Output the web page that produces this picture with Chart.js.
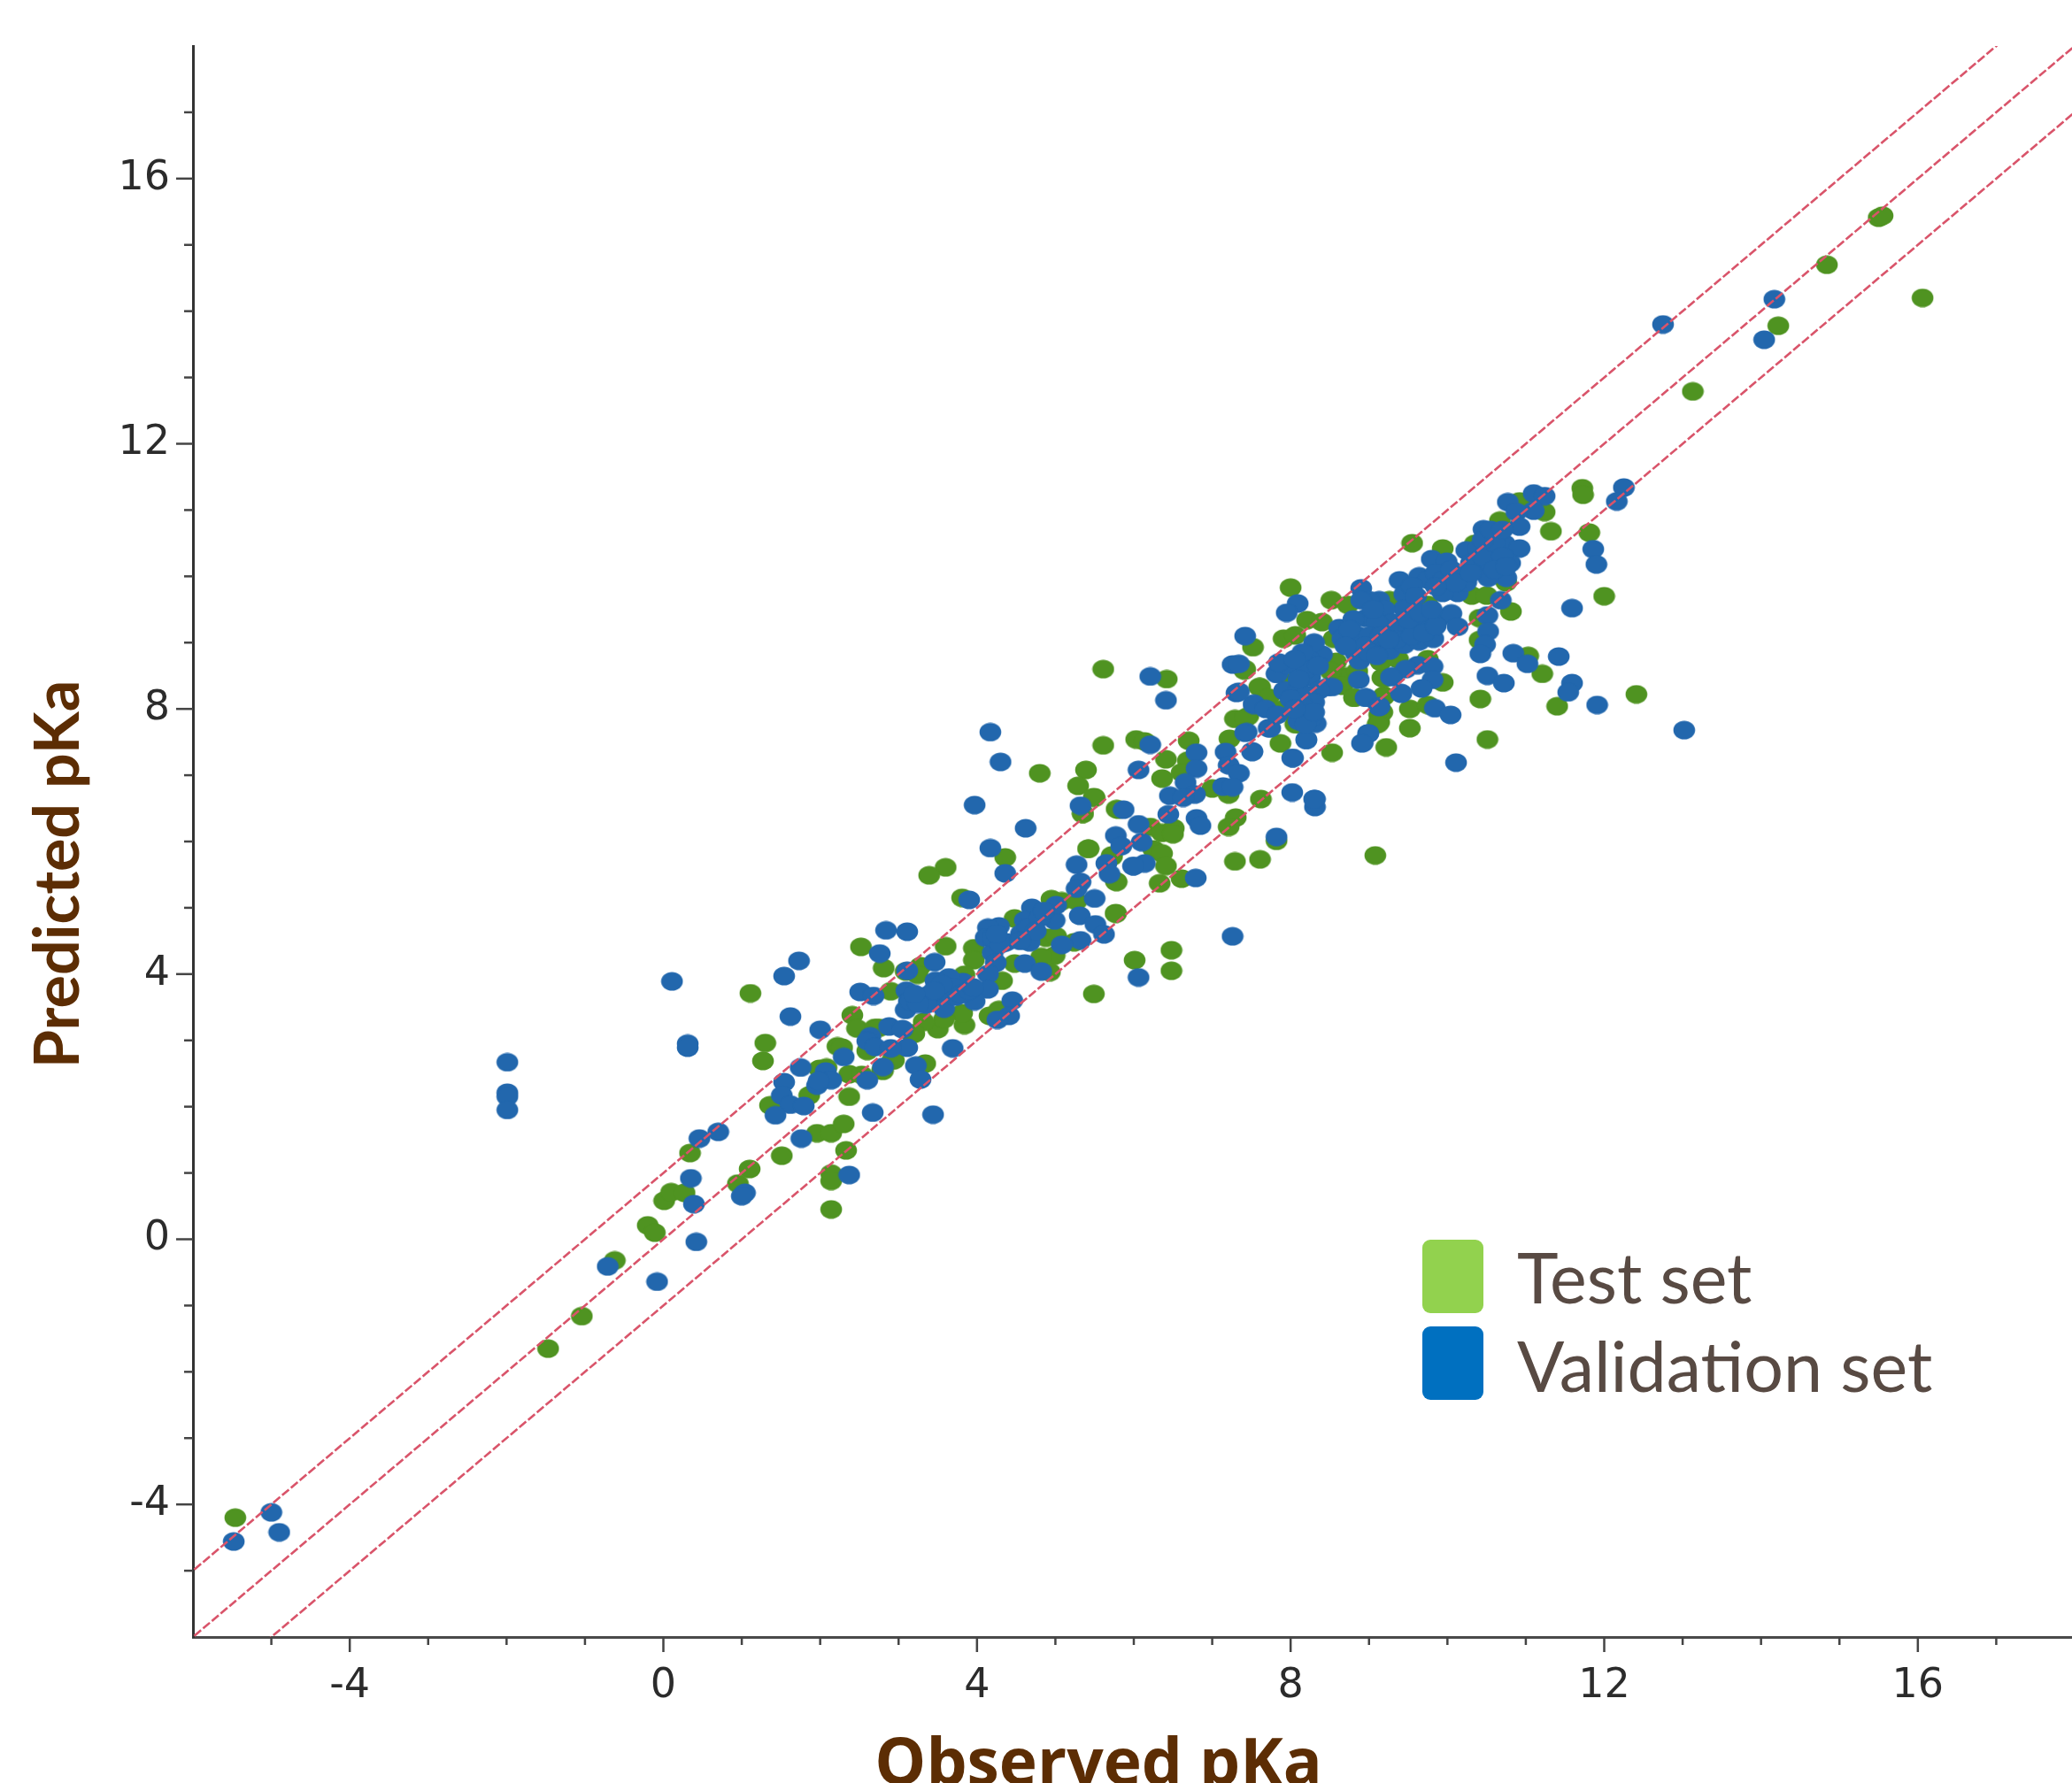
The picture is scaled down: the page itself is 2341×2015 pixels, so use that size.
<!DOCTYPE html>
<html>
<head>
<meta charset="utf-8">
<title>pKa</title>
<script src="https://cdn.jsdelivr.net/npm/chart.js@4"></script>
<style>
html, body { margin: 0; padding: 0; background: #fff; overflow: hidden; }
canvas { display: block; }
</style>
</head>
<body>
<canvas id="pkaChart" width="2349" height="2015"></canvas>
<script>
// values, [observed, predicted]
const testSet = [
[-5.46,-4.20],[-1.47,-1.65],[-1.04,-1.16],[-0.62,-0.32],[-0.20,0.21],[-0.11,0.10],[0.01,0.58],[0.10,0.71],[0.27,0.70],[0.34,1.30],
[0.95,0.84],[1.10,1.06],[1.11,3.71],[1.27,2.69],[1.30,2.96],[1.36,2.02],[1.51,1.26],[1.86,2.17],[1.96,1.60],[1.99,2.57],
[2.08,2.59],[2.14,1.60],[2.30,1.74],[2.33,1.34],[2.14,0.99],[2.14,0.88],[2.14,0.45],[2.37,2.15],[2.37,2.49],[2.53,2.48],
[2.22,2.91],[2.28,2.89],[2.41,3.38],[2.47,3.18],[2.90,3.74],[2.52,4.41],[2.81,4.09],[2.60,2.84],[2.79,2.55],[2.94,2.70],
[3.17,3.10],[2.70,3.19],[3.09,4.04],[3.60,5.61],[3.39,5.49],[3.60,4.42],[4.36,5.76],[3.81,5.15],[5.35,6.42],[5.50,6.66],
[5.78,6.49],[5.42,5.89],[5.72,5.79],[5.78,5.39],[4.95,5.13],[5.08,5.10],[5.27,5.10],[5.77,4.92],[6.01,4.21],[5.49,3.70],
[4.48,4.16],[4.88,4.55],[5.01,4.57],[5.24,4.48],[4.99,4.28],[4.82,4.26],[4.93,4.03],[4.32,3.90],[4.16,3.37],[4.28,3.46],
[3.96,4.39],[3.96,4.21],[3.84,3.99],[3.28,4.12],[3.24,3.99],[4.48,4.84],[3.84,3.23],[3.81,3.41],[3.50,3.17],[3.58,3.32],
[3.32,3.28],[3.20,3.10],[3.34,2.65],[2.92,2.70],[2.80,2.54],[2.75,3.19],[4.33,4.48],[5.61,8.60],[6.42,8.45],[5.61,7.45],
[6.03,7.54],[6.14,7.51],[4.80,7.03],[5.39,7.08],[5.29,6.84],[5.49,6.67],[5.35,6.42],[6.41,7.24],[6.36,6.95],[6.70,7.52],
[6.69,7.22],[6.61,7.04],[7.22,7.55],[7.00,6.80],[7.21,6.71],[7.29,7.85],[7.61,8.33],[7.87,7.48],[8.53,7.34],[9.22,7.42],
[9.13,7.80],[9.17,7.95],[9.52,8.00],[9.52,7.71],[9.19,8.20],[8.81,8.17],[8.70,8.49],[9.17,8.47],[7.41,8.58],[6.21,6.22],
[6.36,6.13],[6.51,6.20],[6.50,6.11],[6.25,5.88],[6.36,5.82],[6.41,5.63],[6.33,5.37],[6.61,5.44],[7.62,6.64],[7.30,6.36],
[7.21,6.22],[7.82,6.01],[7.29,5.70],[7.61,5.73],[9.08,5.79],[5.77,5.40],[5.72,5.77],[5.80,6.48],[5.42,5.89],[5.77,4.91],
[6.48,4.36],[6.48,4.05],[7.46,7.89],[8.06,7.77],[9.55,10.50],[9.94,10.42],[11.72,11.33],[11.73,11.23],[11.81,10.66],[11.32,10.68],
[11.24,10.97],[10.92,11.13],[10.67,10.84],[10.35,10.49],[12.00,9.70],[10.81,9.47],[10.41,9.37],[10.41,9.04],[11.03,8.80],[11.21,8.53],
[9.94,8.40],[10.42,8.15],[12.41,8.22],[11.40,8.04],[10.51,7.54],[9.75,8.06],[9.13,7.91],[9.11,7.77],[8.00,9.83],[8.52,9.64],
[8.73,9.57],[8.21,9.34],[8.40,9.31],[7.91,9.06],[8.06,9.11],[7.52,8.93],[7.42,8.60],[7.60,8.33],[8.00,8.40],[8.55,9.06],
[8.58,8.71],[8.51,8.57],[8.66,8.35],[8.81,8.17],[8.85,8.57],[9.15,8.71],[9.37,8.75],[9.19,8.46],[9.19,8.19],[10.31,9.71],
[10.50,9.71],[10.75,9.91],[9.75,9.57],[9.26,9.64],[9.75,8.75],[8.06,7.91],[7.91,8.00],[7.42,7.86],[8.09,7.77],[7.72,8.17],
[9.52,9.13],[10.28,10.09],[15.50,15.41],[15.55,15.44],[14.84,14.70],[16.06,14.20],[14.22,13.78],[13.13,12.79]
];
const validationSet = [
[-5.00,-4.12],[-5.48,-4.56],[-4.90,-4.42],[-1.99,2.67],[-1.99,2.21],[-1.99,2.15],[-1.99,1.95],[0.11,3.89],[0.31,2.95],[0.31,2.89],
[0.46,1.52],[0.70,1.62],[0.35,0.92],[0.39,0.53],[0.42,-0.04],[-0.71,-0.41],[-0.08,-0.64],[1.04,0.70],[1.00,0.65],[1.76,1.52],
[2.37,0.97],[2.67,1.91],[2.60,2.40],[1.75,2.59],[1.54,2.37],[1.51,2.17],[1.62,2.03],[1.79,2.01],[1.43,1.87],[2.30,2.75],
[2.07,2.53],[2.14,2.40],[1.96,2.32],[1.98,2.39],[2.00,3.16],[1.62,3.36],[1.54,3.97],[1.73,4.20],[2.51,3.73],[2.68,3.67],
[2.84,4.66],[3.11,4.64],[2.76,4.31],[3.11,4.05],[3.10,3.75],[3.13,3.59],[3.09,3.46],[2.64,3.06],[2.60,2.99],[2.70,2.90],
[2.88,3.21],[3.05,3.17],[3.11,2.89],[2.80,2.60],[3.22,2.62],[3.28,2.41],[2.90,2.88],[3.97,6.55],[4.62,6.20],[4.17,5.90],
[4.36,5.52],[5.32,6.54],[5.87,6.48],[6.06,6.26],[5.77,6.09],[5.84,5.93],[6.10,5.99],[5.27,5.65],[5.65,5.67],[5.69,5.51],
[6.00,5.63],[6.14,5.67],[5.32,5.39],[5.27,5.29],[5.50,5.14],[5.31,4.88],[5.51,4.75],[5.62,4.60],[5.32,4.51],[5.08,4.44],
[4.99,4.81],[5.01,5.04],[4.70,5.00],[4.61,4.81],[4.56,4.61],[4.67,4.48],[4.61,4.16],[4.82,4.04],[4.37,4.48],[4.28,4.72],
[4.14,4.70],[4.11,4.55],[4.20,4.32],[4.24,4.17],[4.14,4.00],[4.14,3.77],[3.97,3.59],[3.90,5.12],[4.45,3.60],[4.41,3.37],
[4.26,3.31],[3.82,3.88],[3.64,3.95],[3.46,4.18],[3.47,3.90],[3.37,3.68],[3.54,3.63],[3.58,3.48],[3.73,3.66],[3.35,3.54],
[3.15,3.59],[3.69,2.88],[3.44,1.88],[4.30,7.20],[4.17,7.65],[6.21,8.49],[6.41,8.13],[7.26,8.67],[6.21,7.46],[6.06,7.08],
[6.80,7.34],[6.80,7.10],[6.66,6.89],[6.46,6.69],[6.78,6.71],[6.63,6.66],[6.44,6.41],[6.80,6.35],[6.85,6.24],[7.17,7.35],
[7.21,7.15],[7.34,7.03],[7.14,6.83],[7.26,6.82],[7.44,7.65],[7.51,7.36],[7.31,8.24],[7.72,7.71],[7.82,8.53],[7.53,8.06],
[7.92,8.27],[8.17,8.00],[8.20,7.53],[8.03,7.26],[8.02,6.74],[8.31,6.64],[8.31,6.52],[7.82,6.07],[6.79,5.45],[5.99,5.63],
[7.26,4.57],[6.06,3.95],[8.92,7.49],[8.99,7.63],[8.96,8.17],[9.13,8.04],[9.41,8.23],[8.87,8.44],[9.30,8.49],[8.47,8.33],
[8.32,7.78],[8.10,7.82],[12.25,11.34],[12.16,11.13],[11.86,10.41],[11.90,10.18],[11.59,9.52],[10.51,9.41],[10.52,9.17],[10.48,8.97],
[10.42,8.83],[10.68,9.64],[10.84,8.84],[11.02,8.68],[11.42,8.79],[11.59,8.39],[11.54,8.25],[11.91,8.06],[10.51,8.50],[10.72,8.39],
[10.11,7.19],[13.02,7.68],[8.90,9.82],[8.09,9.59],[7.95,9.45],[7.42,9.10],[9.39,9.94],[9.80,10.26],[9.64,10.00],[9.99,10.22],
[10.24,10.39],[10.39,10.42],[10.46,10.71],[10.77,11.12],[11.10,11.25],[11.24,11.21],[11.10,10.99],[10.88,10.97],[10.92,10.75],[10.65,10.66],
[10.73,10.49],[10.92,10.42],[10.80,10.20],[10.62,10.26],[10.50,10.09],[10.75,9.98],[10.52,9.98],[10.20,10.00],[10.13,9.75],[9.94,9.75],
[10.24,9.91],[9.75,9.95],[9.45,9.73],[9.45,9.51],[9.13,9.64],[9.00,9.64],[8.90,9.64],[8.96,9.37],[8.62,9.22],[8.66,9.06],
[8.85,9.11],[8.83,8.84],[8.88,8.73],[9.22,9.15],[9.07,8.97],[9.26,8.88],[9.45,8.97],[9.64,9.02],[9.82,9.06],[9.90,9.37],
[10.05,9.44],[10.13,9.24],[9.60,9.33],[9.75,9.29],[9.62,8.66],[9.81,8.64],[9.47,8.60],[9.28,8.48],[9.81,8.44],[9.67,8.31],
[9.41,8.24],[8.96,8.17],[9.13,8.03],[9.84,8.01],[10.04,7.91],[8.99,7.63],[8.91,7.48],[8.20,7.54],[8.02,7.26],[7.51,7.35],
[7.74,7.71],[7.42,7.64],[8.30,6.64],[8.26,8.88],[8.40,8.82],[8.23,8.75],[7.83,8.53],[7.96,8.66],[8.25,8.48],[8.53,8.33],
[8.36,8.28],[7.92,8.28],[7.53,8.08],[7.68,8.00],[7.83,7.91],[8.21,8.00],[8.26,7.86],[8.19,7.77],[7.34,8.26],[7.34,8.68],
[12.75,13.80],[14.17,14.18],[14.04,13.57],
[9.85,10.05],[9.95,9.95],[10.05,10.10],[10.10,9.90],[9.85,9.85],[10.30,10.20],[10.45,10.30],[10.60,10.50],[10.70,10.30],[10.60,10.10],
[10.75,10.15],[10.45,10.55],[10.55,10.70],[10.70,10.70],[10.30,10.05],[9.55,9.85],[9.60,9.70],[9.20,9.50],[9.30,9.30],[9.40,9.20],
[9.10,9.30],[9.00,9.10],[8.95,8.95],[9.15,9.10],[9.35,9.05],[9.55,9.10],[9.70,9.15],[9.85,9.25],[8.80,9.35],[8.75,9.20],
[9.05,9.50],[9.25,9.05],[9.50,9.35],[9.65,9.45],[9.80,9.50],[8.70,8.95],[9.00,8.85],[9.10,8.80],[8.30,9.00],[8.20,8.60],
[8.35,8.65],[8.15,8.85],[8.10,8.30],[8.05,8.15],[8.20,8.20],[8.30,8.10],[8.15,8.05],[8.30,7.95],[7.85,8.70],[8.05,8.75],
[8.10,8.45],[3.60,3.75],[3.70,3.80],[3.80,3.70],[3.90,3.75],[3.55,3.85],[3.45,3.75],[3.95,3.80],[3.25,3.55],[3.20,3.70],
[4.20,4.55],[4.30,4.45],[4.25,4.60],[4.65,4.70],[4.80,4.85],[4.75,4.65],[4.85,4.95],[4.55,4.50],[8.00,8.15],[8.05,8.00]
];

const lineX = [-8, 20];
const upperLine = [-7, 21];
const middleLine = [-8, 20];
const lowerLine = [-9, 19];

const tickLabels = [-4, 0, 4, 8, 12, 16];
const legendItems = ['Test set', 'Validation set'];

// los puntos del original son un poco achatados
function ellipseMarker(color) {
    const c = document.createElement('canvas');
    c.width = 26;
    c.height = 22;
    const g = c.getContext('2d');
    g.fillStyle = color;
    g.beginPath();
    g.ellipse(13, 11, 12.3, 10.5, 0, 0, Math.PI * 2);
    g.fill();
    return c;
}

function asPoints(pairs) {
    return pairs.map(p => ({ x: p[0], y: p[1] }));
}

function refLine(values) {
    return {
        data: values.map((v, i) => ({ x: lineX[i], y: v })),
        showLine: true,
        pointRadius: 0,
        borderColor: '#d9546a',
        borderWidth: 2.6,
        borderDash: [10, 3],
        order: 0
    };
}

const tickFont = { family: '"DejaVu Sans"', size: 46 };

// ticks largos y cortos, leyenda y títulos
const decorPlugin = {
    id: 'decor',
    afterDraw(chart) {
        const ctx = chart.ctx;
        const xs = chart.scales.x;
        const ys = chart.scales.y;
        const area = chart.chartArea;
        ctx.save();
        ctx.strokeStyle = '#444';
        ctx.lineWidth = 2.5;
        xs.ticks.forEach(t => {
            if (t.value === -6 || t.value === 18) return;
            const px = xs.getPixelForValue(t.value);
            const len = tickLabels.includes(t.value) ? 17 : 9;
            ctx.beginPath();
            ctx.moveTo(px, area.bottom);
            ctx.lineTo(px, area.bottom + len);
            ctx.stroke();
        });
        ys.ticks.forEach(t => {
            if (t.value === -6 || t.value === 18) return;
            const py = ys.getPixelForValue(t.value);
            const len = tickLabels.includes(t.value) ? 19 : 10;
            ctx.beginPath();
            ctx.moveTo(area.left, py);
            ctx.lineTo(area.left - len, py);
            ctx.stroke();
        });

        // leyenda
        const colors = ['#92d24e', '#0070c0'];
        const boxTops = [1401, 1499];
        const textBase = [1473, 1573];
        ctx.textAlign = 'left';
        ctx.textBaseline = 'alphabetic';
        legendItems.forEach((label, i) => {
            ctx.fillStyle = colors[i];
            ctx.beginPath();
            ctx.roundRect(1607, boxTops[i], 69, 83, 9);
            ctx.fill();
            ctx.fillStyle = '#584a43';
            ctx.font = '79px Lato';
            ctx.fillText(label, 1714, textBase[i]);
        });

        // títulos de ejes
        ctx.fillStyle = '#5c2d04';
        ctx.font = 'bold 73px "Open Sans"';
        ctx.textAlign = 'center';
        ctx.fillText('Observed pKa', 1241, 2017);
        ctx.font = 'bold 70px Lato';
        ctx.translate(89, 988);
        ctx.rotate(-Math.PI / 2);
        ctx.fillText('Predicted pKa', 0, 0);
        ctx.restore();
    }
};

new Chart(document.getElementById('pkaChart'), {
    type: 'scatter',
    data: {
        datasets: [
            refLine(upperLine),
            refLine(middleLine),
            refLine(lowerLine),
            { label: 'Validation set', data: asPoints(validationSet), pointStyle: ellipseMarker('#2267ad'), order: 1 },
            { label: 'Test set', data: asPoints(testSet), pointStyle: ellipseMarker('#4f9321'), order: 2 }
        ]
    },
    options: {
        responsive: false,
        animation: false,
        layout: { padding: { top: 52, right: 0, left: 0, bottom: 0 } },
        plugins: { legend: { display: false }, tooltip: { enabled: false } },
        scales: {
            x: {
                type: 'linear',
                min: -6,
                max: 18,
                // sin reservar medio rótulo en los extremos
                afterFit: s => { s.height = 165; s.paddingLeft = 0; s.paddingRight = 0; },
                grid: { drawOnChartArea: false, drawTicks: false },
                border: { color: '#4a4a4a', width: 3 },
                ticks: {
                    stepSize: 1,
                    autoSkip: false,
                    maxRotation: 0,
                    padding: 28,
                    color: '#2b2b2b',
                    font: tickFont,
                    callback: v => tickLabels.includes(v) ? String(v) : ''
                }
            },
            y: {
                type: 'linear',
                min: -6,
                max: 18,
                afterFit: s => { s.width = 218; s.paddingTop = 0; s.paddingBottom = 0; },
                grid: { drawOnChartArea: false, drawTicks: false },
                border: { color: '#333', width: 3 },
                ticks: {
                    stepSize: 1,
                    autoSkip: false,
                    padding: 26,
                    color: '#2b2b2b',
                    font: tickFont,
                    callback: v => tickLabels.includes(v) ? String(v) : ''
                }
            }
        }
    },
    plugins: [decorPlugin]
});
</script>
</body>
</html>
